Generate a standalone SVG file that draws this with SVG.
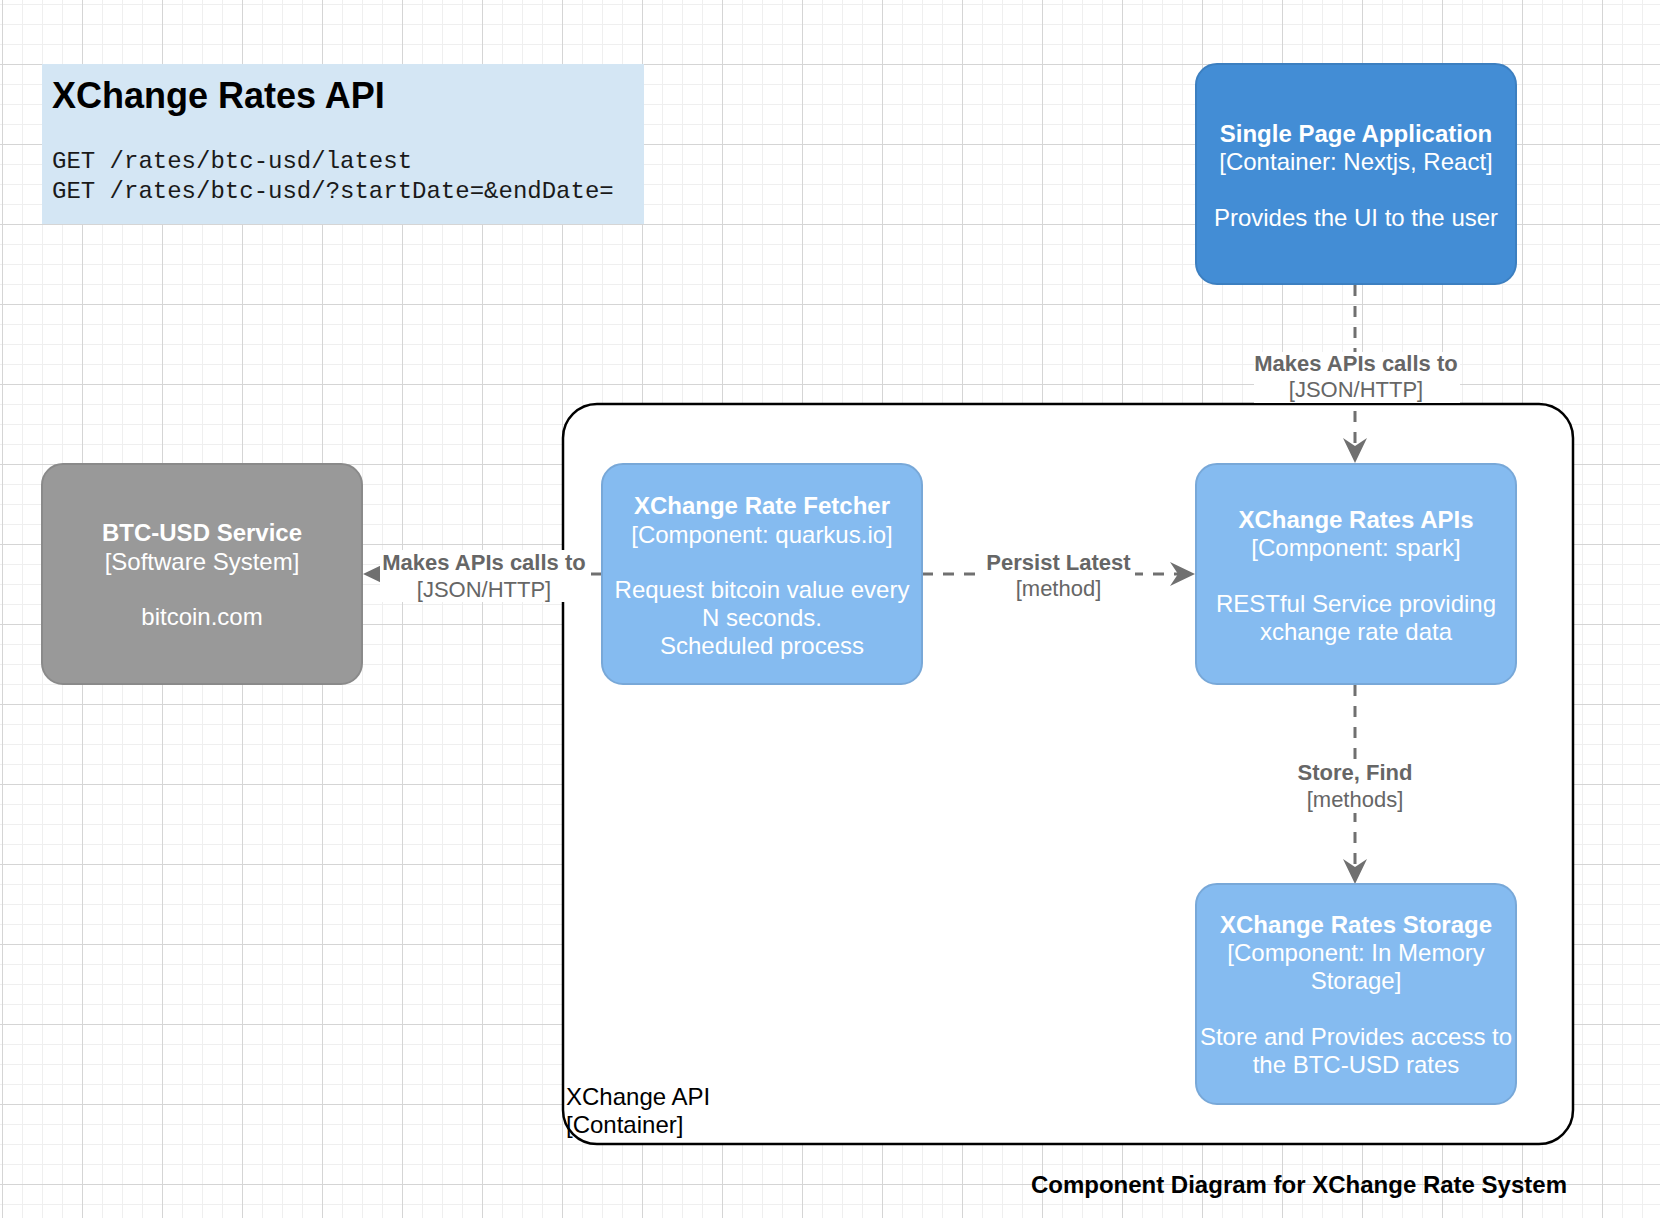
<svg xmlns="http://www.w3.org/2000/svg" width="1660" height="1218" viewBox="0 0 1660 1218">
<defs>
<pattern id="grid" x="2" y="64" width="80" height="80" patternUnits="userSpaceOnUse">
<rect x="0" y="0" width="80" height="80" fill="#ffffff"/>
<path d="M20.5,0V80M40.5,0V80M60.5,0V80M0,20.5H80M0,40.5H80M0,60.5H80" stroke="#efefef" stroke-width="1" fill="none"/>
<path d="M0.5,0V80M0,0.5H80" stroke="#d5d5d5" stroke-width="1" fill="none"/>
</pattern>
<marker id="arrow" markerUnits="userSpaceOnUse" viewBox="0 0 25 24" markerWidth="25" markerHeight="24" refX="8" refY="12" orient="auto">
<path d="M0,0 L25,12 L0,24 L8,12 Z" fill="#707070"/>
</marker>
</defs>
<style>
text{font-family:"Liberation Sans",Arial,Helvetica,sans-serif}
.nt{fill:#ffffff;font-size:24px;text-anchor:middle}
.b{font-weight:bold}
.comp{fill:#85bbf0;stroke:#78a8d8;stroke-width:2}
.cont{fill:#438dd5;stroke:#3c7fc0;stroke-width:2}
.ext{fill:#999999;stroke:#8a8a8a;stroke-width:2}
.rel{fill:none;stroke:#707070;stroke-width:3;stroke-dasharray:11 10;marker-end:url(#arrow)}
.lbg{fill:#ffffff}
.lt{fill:#666666;font-size:22px;text-anchor:middle}
.mono{font-family:"Liberation Mono","Courier New",monospace;font-size:24px;fill:#1a1a1a}
</style>
<rect x="0" y="0" width="1660" height="1218" fill="url(#grid)"/>

<g id="title">
<rect x="42" y="64" width="602" height="160" fill="#d4e6f4"/>
<text x="52" y="108" font-size="36" font-weight="bold" fill="#000000">XChange Rates API</text>
<text class="mono" x="52" y="168">GET /rates/btc-usd/latest</text>
<text class="mono" x="52" y="198">GET /rates/btc-usd/?startDate=&amp;endDate=</text>
</g>

<g id="spa">
<rect class="cont" x="1196" y="64" width="320" height="220" rx="21"/>
<text class="nt b" x="1356" y="141.5">Single Page Application</text>
<text class="nt" x="1356" y="169.5">[Container: Nextjs, React]</text>
<text class="nt" x="1356" y="225.5">Provides the UI to the user</text>
</g>

<g id="btc">
<rect class="ext" x="42" y="464" width="320" height="220" rx="21"/>
<text class="nt b" x="202" y="541">BTC-USD Service</text>
<text class="nt" x="202" y="569.5">[Software System]</text>
<text class="nt" x="202" y="625">bitcoin.com</text>
</g>

<g id="container">
<rect x="563" y="404" width="1010" height="740" rx="34" fill="#ffffff" stroke="#000000" stroke-width="2.5"/>
<text x="566" y="1105" font-size="24" fill="#000000">XChange API</text>
<text x="566" y="1133" font-size="24" fill="#000000">[Container]</text>
</g>

<g id="connectors">
<path class="rel" d="M1355,285 L1355,446"/>
<path class="rel" d="M602,574 L380,574"/>
<path class="rel" d="M922,574 L1178,574"/>
<path class="rel" d="M1355,685 L1355,867"/>
<rect class="lbg" x="1254" y="352" width="206" height="51"/>
<text class="lt b" x="1356" y="370.5">Makes APIs calls to</text>
<text class="lt" x="1356" y="397">[JSON/HTTP]</text>
<rect class="lbg" x="380" y="550" width="210" height="52"/>
<text class="lt b" x="484" y="569.5">Makes APIs calls to</text>
<text class="lt" x="484" y="597">[JSON/HTTP]</text>
<rect class="lbg" x="983" y="550" width="152" height="52"/>
<text class="lt b" x="1058.5" y="569.5">Persist Latest</text>
<text class="lt" x="1058.5" y="596">[method]</text>
<rect class="lbg" x="1290" y="760" width="130" height="53"/>
<text class="lt b" x="1355" y="779.5">Store, Find</text>
<text class="lt" x="1355" y="806.5">[methods]</text>
</g>

<g id="fetcher">
<rect class="comp" x="602" y="464" width="320" height="220" rx="21"/>
<text class="nt b" x="762" y="513.5">XChange Rate Fetcher</text>
<text class="nt" x="762" y="542.5">[Component: quarkus.io]</text>
<text class="nt" x="762" y="597.5">Request bitcoin value every</text>
<text class="nt" x="762" y="625.5">N seconds.</text>
<text class="nt" x="762" y="653.5">Scheduled process</text>
</g>

<g id="apis">
<rect class="comp" x="1196" y="464" width="320" height="220" rx="21"/>
<text class="nt b" x="1356" y="528">XChange Rates APIs</text>
<text class="nt" x="1356" y="556">[Component: spark]</text>
<text class="nt" x="1356" y="612">RESTful Service providing</text>
<text class="nt" x="1356" y="640">xchange rate data</text>
</g>

<g id="storage">
<rect class="comp" x="1196" y="884" width="320" height="220" rx="21"/>
<text class="nt b" x="1356" y="933">XChange Rates Storage</text>
<text class="nt" x="1356" y="961">[Component: In Memory</text>
<text class="nt" x="1356" y="989">Storage]</text>
<text class="nt" x="1356" y="1045">Store and Provides access to</text>
<text class="nt" x="1356" y="1073">the BTC-USD rates</text>
</g>

<g id="caption">
<text x="1567" y="1193" font-size="24" font-weight="bold" fill="#000000" text-anchor="end">Component Diagram for XChange Rate System</text>
</g>
</svg>
